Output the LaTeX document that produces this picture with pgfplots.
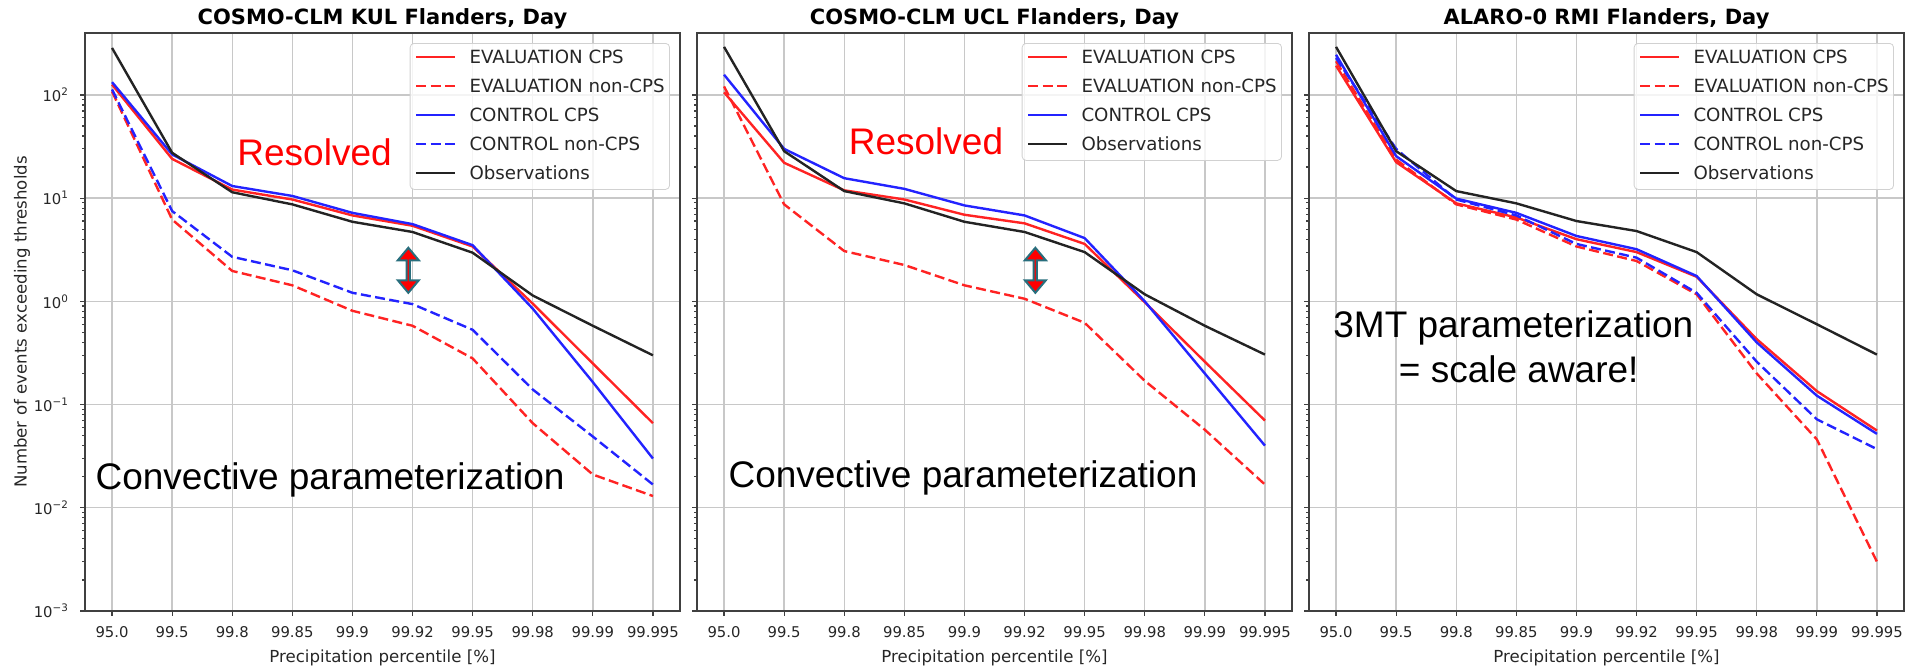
\documentclass[border=0pt]{standalone}
\usepackage{fontspec}
\setmainfont{DejaVu Sans}
\newfontfamily\annfont{Liberation Sans}
\usepackage{pgfplots}
\usepackage{pgfplotstable}
\pgfplotsset{compat=1.18}
\usetikzlibrary{shapes.arrows}

\definecolor{cred}{RGB}{255,35,35}
\definecolor{cblue}{RGB}{35,35,255}
\definecolor{cblack}{RGB}{35,35,35}
\definecolor{gridc}{RGB}{200,200,200}
\definecolor{arrowc}{RGB}{40,110,125}

% x: 0=95.0 1=99.5 2=99.8 3=99.85 4=99.9 5=99.92 6=99.95 7=99.98 8=99.99 9=99.995
\pgfplotstableread{
x evc evn ccc ccn obs
0 126 108 133 113 285
1 24 6.2 26.5 7.5 27.5
2 12.1 1.97 13.1 2.7 11.4
3 9.7 1.43 10.5 2.0 8.7
4 6.8 0.81 7.2 1.21 5.9
5 5.4 0.58 5.6 0.94 4.7
6 3.4 0.28 3.5 0.53 2.96
7 0.95 0.066 0.85 0.14 1.14
8 0.25 0.021 0.165 0.049 0.58
9 0.066 0.013 0.030 0.0168 0.30
}\kul

\pgfplotstableread{
x evc evn ccc obs
0 106 121 157 292
1 22 8.7 30 28.5
2 11.9 3.07 15.6 11.7
3 9.7 2.25 12.3 8.9
4 6.9 1.43 8.5 5.9
5 5.7 1.06 6.8 4.7
6 3.6 0.62 4.1 3.0
7 0.98 0.17 1.0 1.17
8 0.26 0.057 0.2 0.58
9 0.070 0.0168 0.040 0.305
}\ucl

\pgfplotstableread{
x evc evn ccc ccn obs
0 192 212 245 228 292
1 22.3 23.6 25.5 30 28.5
2 8.9 8.7 9.9 9.7 11.7
3 6.5 6.2 7.2 6.8 8.9
4 4.0 3.4 4.3 3.6 6.0
5 3.0 2.46 3.2 2.65 4.8
6 1.73 1.17 1.76 1.21 3.0
7 0.43 0.20 0.40 0.26 1.17
8 0.135 0.046 0.122 0.072 0.60
9 0.056 0.003 0.052 0.037 0.305
}\rmi

\pgfplotsset{
  legend image code/.code={\draw[#1] (0pt,3.2pt) -- (19.5pt,3.2pt);},
  every axis legend/.append style={at={(1,1)}, anchor=north east, xshift=-5pt, yshift=-5pt,
      draw=black!18, rounded corners=2pt, fill=white, fill opacity=0.8, text opacity=1,
      font=\fontsize{9.1}{10}\selectfont, text=black!85,
      inner xsep=2.5pt, inner ysep=3pt, row sep=5.5pt, column sep=0pt,
      nodes={inner sep=0pt, text height=7pt, text depth=2pt, anchor=base west}},
}
\tikzset{
  evc/.style={draw=cred, line width=1.2pt},
  evn/.style={draw=cred, line width=1.2pt, dash pattern=on 5pt off 2.2pt},
  ccc/.style={draw=cblue, line width=1.2pt},
  ccn/.style={draw=cblue, line width=1.2pt, dash pattern=on 5pt off 2.2pt},
  obs/.style={draw=cblack, line width=1.2pt},
  ann/.style={font=\annfont\fontsize{18.5}{22}\selectfont, inner sep=0pt},
  darr/.style={double arrow, draw=arrowc, fill=red, line width=1pt, rotate=90,
    minimum height=22.5pt, minimum width=10.5pt, inner sep=0pt,
    double arrow head extend=2.75pt, double arrow tip angle=80},
  every odd column/.append style={column sep=6.5pt},
}

\begin{document}
\begin{tikzpicture}
\begin{axis}[ymode=log, ymin=1e-3, ymax=398,
    scale only axis, width=297.5pt, height=289pt,
    anchor=south west, at={(42.5pt,27pt)},
    xmin=-0.45, xmax=9.45,
    xtick={0,...,9},
    xticklabels={95.0,99.5,99.8,99.85,99.9,99.92,99.95,99.98,99.99,99.995},
    ytick={1e-3,1e-2,1e-1,1,10,100},
    ymajorgrids, xmajorgrids,
    major grid style={draw=gridc, line width=0.7pt},
    axis line style={draw=black!75, line width=0.7pt},
    tick style={draw=black!75, line width=0.6pt},
    major tick length=2.3pt, minor tick length=1.3pt,
    tick align=outside, xtick pos=bottom, ytick pos=left,
    ticklabel style={font=\fontsize{7.4}{8}\selectfont, text=black!85},
    xticklabel style={yshift=-1.7pt},
    yticklabel style={xshift=-2.2pt},
    xlabel={Precipitation percentile [\%]},
    xlabel style={font=\fontsize{8.3}{9}\selectfont, text=black!85, at={(axis description cs:0.5,0)}, anchor=center, yshift=-23.5pt},
    title style={font=\fontsize{10.5}{12}\selectfont\bfseries, at={(axis description cs:0.5,1)}, anchor=base, yshift=-1.5pt},
    legend cell align=left,
  title={COSMO-CLM KUL Flanders, Day},
  yticklabels={10\textsuperscript{−3},10\textsuperscript{−2},10\textsuperscript{−1},10\textsuperscript{0},10\textsuperscript{1},10\textsuperscript{2}},
  ylabel={Number of events exceeding thresholds},
  ylabel style={font=\fontsize{8.3}{9}\selectfont, text=black!85, at={(axis description cs:-0.1059,0.5)}, anchor=center},
]
\addplot[evc] table[x=x,y=evc] {\kul};
\addlegendentry{EVALUATION CPS}
\addplot[evn] table[x=x,y=evn] {\kul};
\addlegendentry{EVALUATION non-CPS}
\addplot[ccc] table[x=x,y=ccc] {\kul};
\addlegendentry{CONTROL CPS}
\addplot[ccn] table[x=x,y=ccn] {\kul};
\addlegendentry{CONTROL non-CPS}
\addplot[obs] table[x=x,y=obs] {\kul};
\addlegendentry{Observations}
\node[ann, text=red, anchor=base] at (axis cs:3.37,20.7) {Resolved};
\node[ann, anchor=base west] at (axis cs:-0.28,0.0150) {Convective parameterization};
\node[darr] at (axis cs:4.93,2.0) {};
\end{axis}

\begin{axis}[ymode=log, ymin=1e-3, ymax=398,
    scale only axis, width=297.5pt, height=289pt,
    anchor=south west, at={(348.5pt,27pt)},
    xmin=-0.45, xmax=9.45,
    xtick={0,...,9},
    xticklabels={95.0,99.5,99.8,99.85,99.9,99.92,99.95,99.98,99.99,99.995},
    ytick={1e-3,1e-2,1e-1,1,10,100},
    ymajorgrids, xmajorgrids,
    major grid style={draw=gridc, line width=0.7pt},
    axis line style={draw=black!75, line width=0.7pt},
    tick style={draw=black!75, line width=0.6pt},
    major tick length=2.3pt, minor tick length=1.3pt,
    tick align=outside, xtick pos=bottom, ytick pos=left,
    ticklabel style={font=\fontsize{7.4}{8}\selectfont, text=black!85},
    xticklabel style={yshift=-1.7pt},
    xlabel={Precipitation percentile [\%]},
    xlabel style={font=\fontsize{8.3}{9}\selectfont, text=black!85, at={(axis description cs:0.5,0)}, anchor=center, yshift=-23.5pt},
    title style={font=\fontsize{10.5}{12}\selectfont\bfseries, at={(axis description cs:0.5,1)}, anchor=base, yshift=-1.5pt},
    legend cell align=left,
  title={COSMO-CLM UCL Flanders, Day},
  yticklabels={},
]
\addplot[evc] table[x=x,y=evc] {\ucl};
\addlegendentry{EVALUATION CPS}
\addplot[evn] table[x=x,y=evn] {\ucl};
\addlegendentry{EVALUATION non-CPS}
\addplot[ccc] table[x=x,y=ccc] {\ucl};
\addlegendentry{CONTROL CPS}
\addplot[obs] table[x=x,y=obs] {\ucl};
\addlegendentry{Observations}
\node[ann, text=red, anchor=base] at (axis cs:3.36,26.5) {Resolved};
\node[ann, anchor=base west] at (axis cs:0.068,0.0156) {Convective parameterization};
\node[darr] at (axis cs:5.18,2.0) {};
\end{axis}

\begin{axis}[ymode=log, ymin=1e-3, ymax=398,
    scale only axis, width=297.5pt, height=289pt,
    anchor=south west, at={(654.5pt,27pt)},
    xmin=-0.45, xmax=9.45,
    xtick={0,...,9},
    xticklabels={95.0,99.5,99.8,99.85,99.9,99.92,99.95,99.98,99.99,99.995},
    ytick={1e-3,1e-2,1e-1,1,10,100},
    ymajorgrids, xmajorgrids,
    major grid style={draw=gridc, line width=0.7pt},
    axis line style={draw=black!75, line width=0.7pt},
    tick style={draw=black!75, line width=0.6pt},
    major tick length=2.3pt, minor tick length=1.3pt,
    tick align=outside, xtick pos=bottom, ytick pos=left,
    ticklabel style={font=\fontsize{7.4}{8}\selectfont, text=black!85},
    xticklabel style={yshift=-1.7pt},
    xlabel={Precipitation percentile [\%]},
    xlabel style={font=\fontsize{8.3}{9}\selectfont, text=black!85, at={(axis description cs:0.5,0)}, anchor=center, yshift=-23.5pt},
    title style={font=\fontsize{10.5}{12}\selectfont\bfseries, at={(axis description cs:0.5,1)}, anchor=base, yshift=-1.5pt},
    legend cell align=left,
  title={ALARO-0 RMI Flanders, Day},
  yticklabels={},
]
\addplot[evc] table[x=x,y=evc] {\rmi};
\addlegendentry{EVALUATION CPS}
\addplot[evn] table[x=x,y=evn] {\rmi};
\addlegendentry{EVALUATION non-CPS}
\addplot[ccc] table[x=x,y=ccc] {\rmi};
\addlegendentry{CONTROL CPS}
\addplot[ccn] table[x=x,y=ccn] {\rmi};
\addlegendentry{CONTROL non-CPS}
\addplot[obs] table[x=x,y=obs] {\rmi};
\addlegendentry{Observations}
\node[ann, anchor=base] at (axis cs:2.95,0.45) {3MT parameterization};
\node[ann, anchor=base] at (axis cs:3.04,0.162) {= scale aware!};
\end{axis}
\pgfresetboundingbox
\useasboundingbox (0,0) rectangle (953.5pt,332.5pt);
\end{tikzpicture}
\end{document}
